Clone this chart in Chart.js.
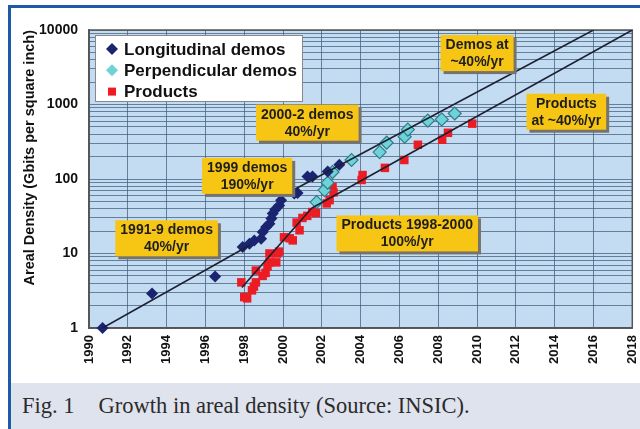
<!DOCTYPE html>
<html>
<head>
<meta charset="utf-8">
<script src="https://cdn.jsdelivr.net/npm/chart.js@4.4.1/dist/chart.umd.min.js"></script>
<style>
  html, body { margin: 0; padding: 0; background: #fff; }
  #frame { position: relative; width: 640px; height: 429px; overflow: hidden; background: #fff; }
  #chart { position: absolute; left: 0; top: 0; }
  #caption {
    position: absolute; left: 11px; top: 383px; width: 629px; height: 46px;
    background: #dfe3ee; color: #2b2b2b;
    font-family: "Liberation Serif", "Times New Roman", serif; font-size: 22.5px;
    line-height: 46px; white-space: nowrap;
  }
  #caption .fig { margin-left: 11px; }
  #caption .txt { margin-left: 24px; }
  .edge { position: absolute; background: #1f5aa6; }
</style>
</head>
<body>
<div id="frame">
  <canvas id="chart" width="640" height="383"></canvas>
  <div id="caption"><span class="fig">Fig. 1</span><span class="txt">Growth in areal density (Source: INSIC).</span></div>
  <div class="edge" style="left:8px;top:5px;width:632px;height:3px;"></div>
  <div class="edge" style="left:8px;top:5px;width:3px;height:424px;"></div>
</div>
<script>
'use strict';

// ── Data ──────────────────────────────────────────────────────
const xTickYears  = [1990, 1992, 1994, 1996, 1998, 2000, 2002, 2004, 2006, 2008, 2010, 2012, 2014, 2016, 2018];
const yTickLabels = [1, 10, 100, 1000, 10000];

const longYears = [1990.7, 1993.25, 1996.5, 1997.92, 1998.27, 1998.52, 1998.87, 1998.95, 1999.13, 1999.3,
                   1999.4, 1999.47, 1999.6, 1999.8, 1999.9, 2000.58, 2000.75, 2001.26, 2001.52, 2002.3, 2002.9];
const longGbits = [1.0, 2.9, 4.9, 12.2, 13.5, 15, 15.8, 19.4, 22.7, 25,
                   29.6, 34.4, 39, 44, 52, 64, 65, 108, 108, 126, 155];

const perpYears = [2001.73, 2002.14, 2002.3, 2002.55, 2003.53, 2004.98, 2005.34, 2006.27, 2006.43, 2007.46, 2008.18, 2008.85];
const perpGbits = [49, 71, 89, 124, 180, 230, 307, 370, 460, 607, 630, 757];

const prodYears = [1997.85, 1998.0, 1998.15, 1998.4, 1998.5, 1998.6, 1998.6, 1998.95, 1999.1, 1999.2,
                   1999.3, 1999.3, 1999.65, 1999.7, 1999.8, 2000.05, 2000.35, 2000.5, 2000.7, 2000.85,
                   2001.0, 2001.25, 2001.5, 2001.7, 2002.25, 2002.4, 2002.6, 2002.55, 2004.05, 2004.1,
                   2005.25, 2006.25, 2006.95, 2008.2, 2008.5, 2009.75];
const prodGbits = [4.1, 2.6, 2.5, 3.2, 3.6, 4.1, 5.9, 5.0, 5.5, 6.7,
                   10, 7.6, 7.6, 10, 10.6, 16.5, 16, 15, 26, 20.5,
                   30, 32, 36, 35, 47, 52, 66, 78, 97, 113,
                   141, 180, 288, 336, 417, 553];

// trend lines: [year, Gbit/in²] end points
const demoTrend1991  = [[1990.7, 1.0], [1998.3, 13]];
const demoTrend2000  = [[2000.0, 60], [2016.0, 10000]];
const prodTrend1998  = [[1997.88, 3.5], [2001.47, 40.5]];
const prodTrend40pct = [[2001.47, 40.5], [2018.0, 10000]];

// yellow call-outs, anchored at (year, value) of the box centre
const callouts = [
  { lines: ['Demos at', '~40%/yr'],               year: 2010.0,  gbits: 4900 },
  { lines: ['Products', 'at ~40%/yr'],            year: 2014.6,  gbits: 800 },
  { lines: ['2000-2 demos', '40%/yr'],            year: 2001.25, gbits: 570 },
  { lines: ['1999 demos', '190%/yr'],             year: 1998.15, gbits: 110 },
  { lines: ['1991-9 demos', '40%/yr'],            year: 1994.0,  gbits: 16 },
  { lines: ['Products 1998-2000', '100%/yr'],     year: 2006.4,  gbits: 18.6 },
];

// ── Helpers ───────────────────────────────────────────────────
const FONT = '"Liberation Sans", Arial, sans-serif';
const toPts = (xs, ys) => xs.map((x, i) => ({ x, y: ys[i] }));
const toLine = (pairs) => pairs.map(p => ({ x: p[0], y: p[1] }));

const yGridValues = [];
[1, 10, 100, 1000].forEach(d => { for (let k = 1; k < 10; k++) yGridValues.push(d * k); });
yGridValues.push(10000);

function trendSet(pairs) {
  return {
    data: toLine(pairs), showLine: true, borderColor: '#1d2030', borderWidth: 1.6,
    pointRadius: 0, fill: false, isTrend: true,
  };
}

// ── Plugins ───────────────────────────────────────────────────
const plotBackground = {
  id: 'plotBackground',
  beforeDraw(chart) {
    const { ctx, chartArea: a } = chart;
    ctx.save();
    ctx.fillStyle = '#c3dcf2';
    ctx.fillRect(a.left, a.top, a.right - a.left, a.bottom - a.top);
    ctx.restore();
  },
  beforeDatasetsDraw(chart) {
    const { ctx, chartArea: a } = chart;
    ctx.save();
    ctx.strokeStyle = '#555';
    ctx.lineWidth = 1.5;
    ctx.strokeRect(a.left, a.top, a.right - a.left, a.bottom - a.top);
    ctx.restore();
  }
};

function drawMarker(ctx, style, x, y, r) {
  ctx.beginPath();
  if (style === 'rect') {
    ctx.rect(x - r, y - r, 2 * r, 2 * r);
  } else {
    ctx.moveTo(x, y - r); ctx.lineTo(x + r, y); ctx.lineTo(x, y + r); ctx.lineTo(x - r, y);
    ctx.closePath();
  }
  ctx.fill();
}

const boxLegend = {
  id: 'boxLegend',
  afterDatasetsDraw(chart) {
    const { ctx, chartArea: a } = chart;
    const x = a.left + 6, y = a.top + 5, w = 207, h = 66;
    ctx.save();
    ctx.fillStyle = '#fff';
    ctx.fillRect(x, y, w, h);
    ctx.strokeStyle = '#888';
    ctx.lineWidth = 1;
    ctx.strokeRect(x + 0.5, y + 0.5, w, h);
    const items = chart.data.datasets.filter(d => !d.isTrend);
    ctx.font = 'bold 17px ' + FONT;
    ctx.textBaseline = 'middle';
    items.forEach((ds, i) => {
      const cy = y + 14 + i * 21.3;
      ctx.fillStyle = ds.backgroundColor;
      drawMarker(ctx, ds.pointStyle, x + 17, cy, ds.pointStyle === 'rect' ? 4 : 6);
      ctx.fillStyle = '#111';
      ctx.fillText(ds.label, x + 29, cy + 1);
    });
    ctx.restore();
  }
};

const calloutBoxes = {
  id: 'calloutBoxes',
  afterDatasetsDraw(chart) {
    const { ctx, scales: { x: xs, y: ys } } = chart;
    ctx.save();
    ctx.font = 'bold 14px ' + FONT;
    ctx.textAlign = 'center';
    ctx.textBaseline = 'middle';
    callouts.forEach(c => {
      const cx = xs.getPixelForValue(c.year);
      const cy = ys.getPixelForValue(c.gbits);
      const tw = Math.max(...c.lines.map(t => ctx.measureText(t).width));
      const bw = tw + 10, bh = 36;
      const bx = cx - bw / 2, by = cy - bh / 2;
      ctx.fillStyle = '#77736a';
      ctx.fillRect(bx + 3, by + 3, bw, bh);
      ctx.fillStyle = '#f7c614';
      ctx.fillRect(bx, by, bw, bh);
      ctx.fillStyle = '#1e1e1e';
      ctx.fillText(c.lines[0], cx, cy - 8);
      ctx.fillText(c.lines[1], cx, cy + 9);
    });
    ctx.restore();
  }
};

// ── Chart ─────────────────────────────────────────────────────
const gridColor = 'rgba(62, 92, 122, 0.72)';

new Chart(document.getElementById('chart'), {
  type: 'scatter',
  data: {
    datasets: [
      trendSet(demoTrend1991),
      trendSet(demoTrend2000),
      trendSet(prodTrend1998),
      trendSet(prodTrend40pct),
      {
        label: 'Longitudinal demos', data: toPts(longYears, longGbits), clip: false,
        pointStyle: 'rectRot', pointRadius: 6, backgroundColor: '#1b2470',
        borderColor: '#1b2470', borderWidth: 0,
      },
      {
        label: 'Perpendicular demos', data: toPts(perpYears, perpGbits), clip: false,
        pointStyle: 'rectRot', pointRadius: 6.5, backgroundColor: '#6fd2d8',
        borderColor: '#2f7d88', borderWidth: 1.2,
      },
      {
        label: 'Products', data: toPts(prodYears, prodGbits), clip: false,
        pointStyle: 'rect', pointRadius: 6, backgroundColor: '#ec1c24',
        borderColor: '#ec1c24', borderWidth: 0,
      },
    ],
  },
  options: {
    responsive: false,
    animation: false,
    events: [],
    layout: { padding: { left: 8, top: 30, right: 7, bottom: 0 } },
    plugins: { legend: { display: false }, tooltip: { enabled: false } },
    scales: {
      x: {
        type: 'linear', min: 1990, max: 2018,
        afterFit: s => { s.height = 55; s.paddingLeft = 0; s.paddingRight = 0; },
        afterBuildTicks: s => { s.ticks = xTickYears.map(v => ({ value: v })); },
        grid: { color: gridColor, lineWidth: 1, drawTicks: false },
        border: { display: true, color: '#555', width: 1.5 },
        ticks: {
          autoSkip: false, minRotation: 90, maxRotation: 90, padding: 7,
          color: '#111', font: { family: FONT, size: 13, weight: 'bold' },
          callback: v => String(v),
        },
      },
      y: {
        type: 'logarithmic', min: 1, max: 10000,
        afterFit: s => { s.width = 81; s.paddingTop = 0; s.paddingBottom = 0; },
        afterBuildTicks: s => { s.ticks = yGridValues.map(v => ({ value: v })); },
        grid: { color: gridColor, lineWidth: 1, drawTicks: false },
        border: { display: true, color: '#555', width: 1.5 },
        ticks: {
          autoSkip: false, padding: 11,
          color: '#111', font: { family: FONT, size: 14, weight: 'bold' },
          callback: v => (yTickLabels.includes(v) ? String(v) : ''),
        },
        title: {
          display: true, text: 'Areal Density (Gbits per square inch)', align: 'end',
          color: '#111', font: { family: FONT, size: 14.5, weight: 'bold' },
          padding: { top: 13, bottom: 0 },
        },
      },
    },
  },
  plugins: [plotBackground, boxLegend, calloutBoxes],
});
</script>
</body>
</html>
